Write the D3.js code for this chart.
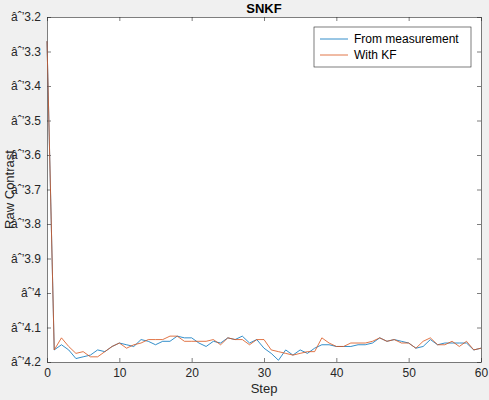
<!DOCTYPE html><html><head><script src="https://cdn.jsdelivr.net/npm/d3@7"></script>
<style>body{margin:0;background:#f0f0f0}text{font-family:Arial,"Liberation Sans",sans-serif}</style></head><body><svg id="c" width="489" height="400"></svg>
<script>
const steps = d3.range(0,61);
const measurement=[-3.27,-4.165,-4.15,-4.165,-4.19,-4.185,-4.18,-4.165,-4.17,-4.155,-4.145,-4.15,-4.155,-4.135,-4.14,-4.15,-4.14,-4.14,-4.125,-4.13,-4.13,-4.145,-4.155,-4.14,-4.145,-4.13,-4.135,-4.125,-4.145,-4.135,-4.16,-4.175,-4.195,-4.165,-4.18,-4.165,-4.175,-4.16,-4.15,-4.15,-4.155,-4.155,-4.155,-4.15,-4.15,-4.145,-4.13,-4.14,-4.135,-4.14,-4.145,-4.16,-4.155,-4.135,-4.15,-4.145,-4.145,-4.145,-4.145,-4.165,-4.16];
const withKF=[-3.27,-4.165,-4.13,-4.155,-4.175,-4.17,-4.185,-4.185,-4.17,-4.155,-4.145,-4.16,-4.15,-4.145,-4.135,-4.135,-4.135,-4.125,-4.125,-4.14,-4.14,-4.14,-4.14,-4.135,-4.15,-4.13,-4.135,-4.135,-4.15,-4.135,-4.135,-4.165,-4.17,-4.175,-4.18,-4.175,-4.17,-4.17,-4.13,-4.145,-4.155,-4.155,-4.145,-4.145,-4.145,-4.14,-4.13,-4.14,-4.135,-4.145,-4.145,-4.16,-4.14,-4.13,-4.15,-4.15,-4.14,-4.155,-4.14,-4.165,-4.16];
const xTicks=[0,10,20,30,40,50,60];
const yTicks=[-4.2,-4.1,-4,-3.9,-3.8,-3.7,-3.6,-3.5,-3.4,-3.3,-3.2];
const svg=d3.select("#c");
const L=47,R=481,T=17,B=362;
const x=d3.scaleLinear().domain([0,60]).range([L,R]);
const y=d3.scaleLinear().domain([-4.2,-3.2]).range([B,T]);
svg.append("rect").attr("x",L).attr("y",T).attr("width",R-L).attr("height",B-T).attr("fill","#fff");
const tc="#262626";
const gx=svg.append("g").attr("transform",`translate(0,${B})`).call(d3.axisBottom(x).tickValues(xTicks).tickFormat(d3.format("d")).tickSizeInner(-4).tickSizeOuter(0).tickPadding(6));
svg.append("g").attr("transform",`translate(0,${T})`).call(d3.axisTop(x).tickValues(xTicks).tickFormat("").tickSizeInner(-4).tickSizeOuter(0));
const gy=svg.append("g").attr("transform",`translate(${L},0)`).call(d3.axisLeft(y).tickValues(yTicks).tickFormat(d=>d3.format("")(+d.toFixed(1))).tickSizeInner(-4).tickSizeOuter(0).tickPadding(6));
svg.append("g").attr("transform",`translate(${R},0)`).call(d3.axisRight(y).tickValues(yTicks).tickFormat("").tickSizeInner(-4).tickSizeOuter(0));
svg.selectAll(".domain,.tick line").attr("stroke",tc).attr("stroke-width",0.6);
svg.selectAll(".tick text").attr("fill",tc).style("font-size","12px");
const line=d3.line().x((d,i)=>x(steps[i])).y(d=>y(d));
svg.append("path").datum(measurement).attr("d",line).attr("fill","none").attr("stroke","#0072BD").attr("stroke-width",0.8);
svg.append("path").datum(withKF).attr("d",line).attr("fill","none").attr("stroke","#D95319").attr("stroke-width",0.8);
svg.append("text").attr("x",(L+R)/2).attr("y",13).attr("text-anchor","middle").attr("font-weight","bold").attr("font-size","13px").attr("fill","#000").text("SNKF");
svg.append("text").attr("x",(L+R)/2).attr("y",393).attr("text-anchor","middle").attr("font-size","13px").attr("fill",tc).text("Step");
svg.append("text").attr("transform",`translate(14,${(T+B)/2}) rotate(-90)`).attr("text-anchor","middle").attr("font-size","13px").attr("fill",tc).text("Raw Contrast");
const lg=svg.append("g").attr("transform","translate(314,27)");
lg.append("rect").attr("width",157).attr("height",40).attr("fill","#fff").attr("stroke",tc).attr("stroke-width",0.6);
[["From measurement","#0072BD"],["With KF","#D95319"]].forEach((s,i)=>{
 lg.append("line").attr("x1",6).attr("x2",34).attr("y1",12+i*16).attr("y2",12+i*16).attr("stroke",s[1]).attr("stroke-width",0.8);
 lg.append("text").attr("x",40).attr("y",16+i*16).attr("font-size","12px").attr("fill","#000").text(s[0]);
});
</script></body></html>
